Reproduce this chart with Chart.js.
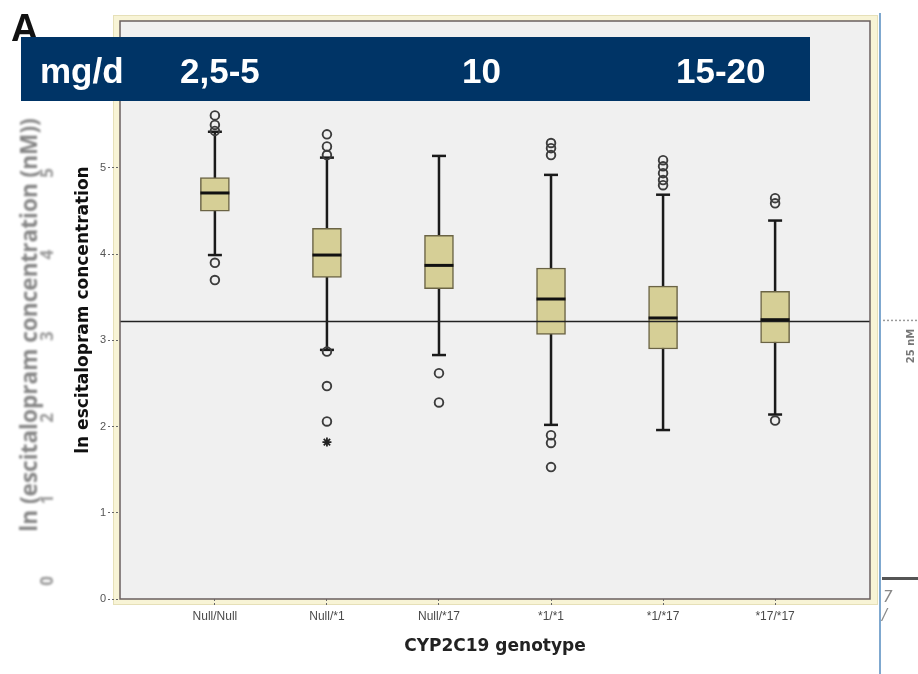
<!DOCTYPE html>
<html lang="en">
<head>
<meta charset="UTF-8" />
<title>CYP2C19 genotype</title>
<script src="https://cdn.jsdelivr.net/npm/chart.js"></script>
<style>
  html, body { margin: 0; padding: 0; background: #fff; }
  #chart { display: block; }
</style>
</head>
<body>
<canvas id="chart" width="918" height="674"></canvas>
<script>
// values (ln of escitalopram concentration)
const genotypes = ["Null/Null", "Null/*1", "Null/*17", "*1/*1", "*1/*17", "*17/*17"];
const whiskerLow = [3.99, 2.89, 2.83, 2.02, 1.96, 2.14];
const q1 = [4.50, 3.73, 3.60, 3.07, 2.90, 2.97];
const median = [4.71, 3.99, 3.87, 3.48, 3.26, 3.24];
const q3 = [4.89, 4.30, 4.22, 3.84, 3.63, 3.57];
const whiskerHigh = [5.42, 5.12, 5.14, 4.92, 4.69, 4.39];
const outliers = [
  [5.61, 5.50, 5.43, 3.90, 3.70],
  [5.39, 5.25, 5.15, 2.87, 2.47, 2.06],
  [2.62, 2.28],
  [5.29, 5.23, 5.15, 1.90, 1.81, 1.53],
  [5.09, 5.02, 4.94, 4.86, 4.80],
  [4.65, 4.59, 2.07]
];
const extremes = [[], [1.82], [], [], [], []];
const refLine = 3.22; // ln(25 nM)
const yTicks = [0, 1, 2, 3, 4, 5];
const doseLabels = ["mg/d", "2,5-5", "10", "15-20"];
const ghostTicks = ["5", "4", "3", "2", "1", "0"];

const xMin = -0.847, xMax = 5.847;

// build the datasets
const boxData = genotypes.map((g, i) => ({ x: i, y: [q1[i], q3[i]] }));
const whiskerData = [];
const capData = [];
genotypes.forEach((g, i) => {
  whiskerData.push({ x: i, y: whiskerLow[i] }, { x: i, y: whiskerHigh[i] }, { x: i, y: null });
  capData.push({ x: i, y: whiskerLow[i] }, { x: i, y: whiskerHigh[i] });
});
const medianData = median.map((m, i) => ({ x: i, y: m }));
const outlierData = [];
outliers.forEach((list, i) => list.forEach(v => outlierData.push({ x: i, y: v })));
const extremeData = [];
extremes.forEach((list, i) => list.forEach(v => extremeData.push({ x: i, y: v })));

const frame = {
  id: "frame",
  beforeDraw(chart) {
    const { ctx, chartArea: a } = chart;
    ctx.save();
    ctx.fillStyle = "#fff";
    ctx.fillRect(0, 0, chart.width, chart.height);
    // cream outer frame
    ctx.fillStyle = "#f8f4d6";
    ctx.fillRect(113, 15, 765, 590);
    ctx.strokeStyle = "#e6e0b8";
    ctx.lineWidth = 1;
    ctx.strokeRect(113.5, 15.5, 764, 589);
    // plot background
    ctx.fillStyle = "#f0f0f0";
    ctx.fillRect(a.left, a.top, a.right - a.left, a.bottom - a.top);

    // faded label of the figure underneath
    ctx.filter = "blur(1.1px)";
    ctx.fillStyle = "#858585";
    ctx.translate(31, 325);
    ctx.rotate(-Math.PI / 2);
    ctx.font = 'bold 20px "Open Sans"';
    const txt = "ln (escitalopram concentration (nM))";
    const w = ctx.measureText(txt).width;
    const size = 20 * 414 / w;
    ctx.font = 'bold ' + size.toFixed(1) + 'px "Open Sans"';
    ctx.textAlign = "center";
    ctx.textBaseline = "middle";
    ctx.fillText(txt, 0, 0);
    ctx.font = 'bold 17px "Open Sans"';
    ctx.fillStyle = "#9a9a9a";
    ghostTicks.forEach((t, i) => {
      ctx.fillText(t, -(173 + i * 81.6 - 325), 17);
    });
    ctx.restore();

    ctx.save();
    ctx.fillStyle = "#111";
    ctx.font = 'bold 38px "Liberation Sans"';
    ctx.textBaseline = "alphabetic";
    ctx.fillText("A", 11, 41);
    ctx.restore();
  },
  afterDraw(chart) {
    const { ctx, chartArea: a } = chart;
    ctx.save();
    // plot border
    ctx.strokeStyle = "#6a5f5f";
    ctx.lineWidth = 1.5;
    ctx.strokeRect(a.left, a.top, a.right - a.left, a.bottom - a.top);

    // pieces of the neighbouring figure on the right
    ctx.strokeStyle = "#7fa8cf";
    ctx.lineWidth = 2;
    ctx.beginPath();
    ctx.moveTo(880, 13);
    ctx.lineTo(880, 674);
    ctx.stroke();
    ctx.strokeStyle = "#9a9a9a";
    ctx.lineWidth = 1.5;
    ctx.setLineDash([2, 2]);
    ctx.beginPath();
    ctx.moveTo(883, chart.scales.y.getPixelForValue(refLine) - 1);
    ctx.lineTo(918, chart.scales.y.getPixelForValue(refLine) - 1);
    ctx.stroke();
    ctx.setLineDash([]);
    ctx.strokeStyle = "#555";
    ctx.lineWidth = 3;
    ctx.beginPath();
    ctx.moveTo(882, 578.5);
    ctx.lineTo(918, 578.5);
    ctx.stroke();
    ctx.fillStyle = "#888";
    ctx.font = 'italic 15px "DejaVu Sans"';
    ctx.fillText("7", 883, 602);
    ctx.fillText("/", 882, 620);
    ctx.save();
    ctx.translate(911, 346);
    ctx.rotate(-Math.PI / 2);
    ctx.font = 'bold 10px "DejaVu Sans"';
    ctx.fillStyle = "#777";
    ctx.textAlign = "center";
    ctx.textBaseline = "middle";
    ctx.fillText("25 nM", 0, 0);
    ctx.restore();

    // dose banner
    ctx.fillStyle = "#003466";
    ctx.fillRect(21, 37, 789, 64);
    ctx.fillStyle = "#fff";
    ctx.font = 'bold 35px "Liberation Sans"';
    ctx.textBaseline = "alphabetic";
    const lefts = [40, 180, 462, 676];
    doseLabels.forEach((t, i) => ctx.fillText(t, lefts[i], 83));
    ctx.restore();
  }
};

const ctx = document.getElementById("chart").getContext("2d");
new Chart(ctx, {
  type: "bar",
  data: {
    datasets: [
      {
        type: "scatter",
        data: extremeData,
        pointStyle: "star",
        pointRadius: 4.5,
        borderColor: "#222",
        borderWidth: 1.8,
        order: 0
      },
      {
        type: "scatter",
        data: outlierData,
        pointStyle: "circle",
        pointRadius: 4.3,
        borderColor: "#3c3c3c",
        backgroundColor: "rgba(0,0,0,0)",
        borderWidth: 1.9,
        order: 1
      },
      {
        type: "scatter",
        data: medianData,
        pointStyle: "line",
        pointRadius: 14.5,
        borderColor: "#111",
        borderWidth: 3,
        order: 2
      },
      {
        type: "scatter",
        data: capData,
        pointStyle: "line",
        pointRadius: 7,
        borderColor: "#1a1a1a",
        borderWidth: 2.5,
        order: 3
      },
      {
        type: "line",
        data: [{ x: xMin, y: refLine }, { x: xMax, y: refLine }],
        borderColor: "#222",
        borderWidth: 1.5,
        pointRadius: 0,
        order: 4
      },
      {
        type: "bar",
        data: boxData,
        barThickness: 29,
        backgroundColor: "#d6cf96",
        borderColor: "#6b6445",
        borderWidth: 1.5,
        borderSkipped: false,
        grouped: false,
        order: 5
      },
      {
        type: "line",
        data: whiskerData,
        borderColor: "#1a1a1a",
        borderWidth: 2.5,
        pointRadius: 0,
        spanGaps: false,
        order: 6
      }
    ]
  },
  options: {
    responsive: false,
    animation: false,
    layout: { padding: { left: 0, right: 48, top: 21, bottom: 0 } },
    plugins: { legend: { display: false }, tooltip: { enabled: false } },
    scales: {
      x: {
        type: "linear",
        min: xMin,
        max: xMax,
        offset: false,
        afterBuildTicks: s => { s.ticks = genotypes.map((g, i) => ({ value: i })); },
        afterFit: s => { s.height = 75; },
        ticks: {
          callback: v => genotypes[v],
          font: { family: "Liberation Sans", size: 12 },
          color: "#4a4a4a",
          padding: 3,
          maxRotation: 0,
          autoSkip: false
        },
        grid: {
          offset: false,
          drawOnChartArea: false,
          tickLength: 7,
          tickColor: "#666",
          tickBorderDash: [2, 2]
        },
        border: { display: false },
        title: {
          display: true,
          text: "CYP2C19 genotype",
          font: { family: "DejaVu Sans", size: 17, weight: "bold" },
          color: "#222",
          padding: { top: 0, bottom: 17 }
        }
      },
      y: {
        min: 0,
        max: 6.705,
        afterBuildTicks: s => { s.ticks = yTicks.map(v => ({ value: v })); },
        afterFit: s => { s.width = 120; },
        ticks: {
          font: { family: "Liberation Sans", size: 11 },
          color: "#555",
          padding: 2
        },
        grid: {
          drawOnChartArea: false,
          tickLength: 12,
          tickColor: "#666",
          tickBorderDash: [2, 2]
        },
        border: { display: false },
        title: {
          display: true,
          text: "ln escitalopram concentration",
          font: { family: "DejaVu Sans", size: 17, weight: "bold" },
          color: "#111",
          padding: { top: 73, bottom: 0 }
        }
      }
    }
  },
  plugins: [frame]
});
</script>
</body>
</html>
